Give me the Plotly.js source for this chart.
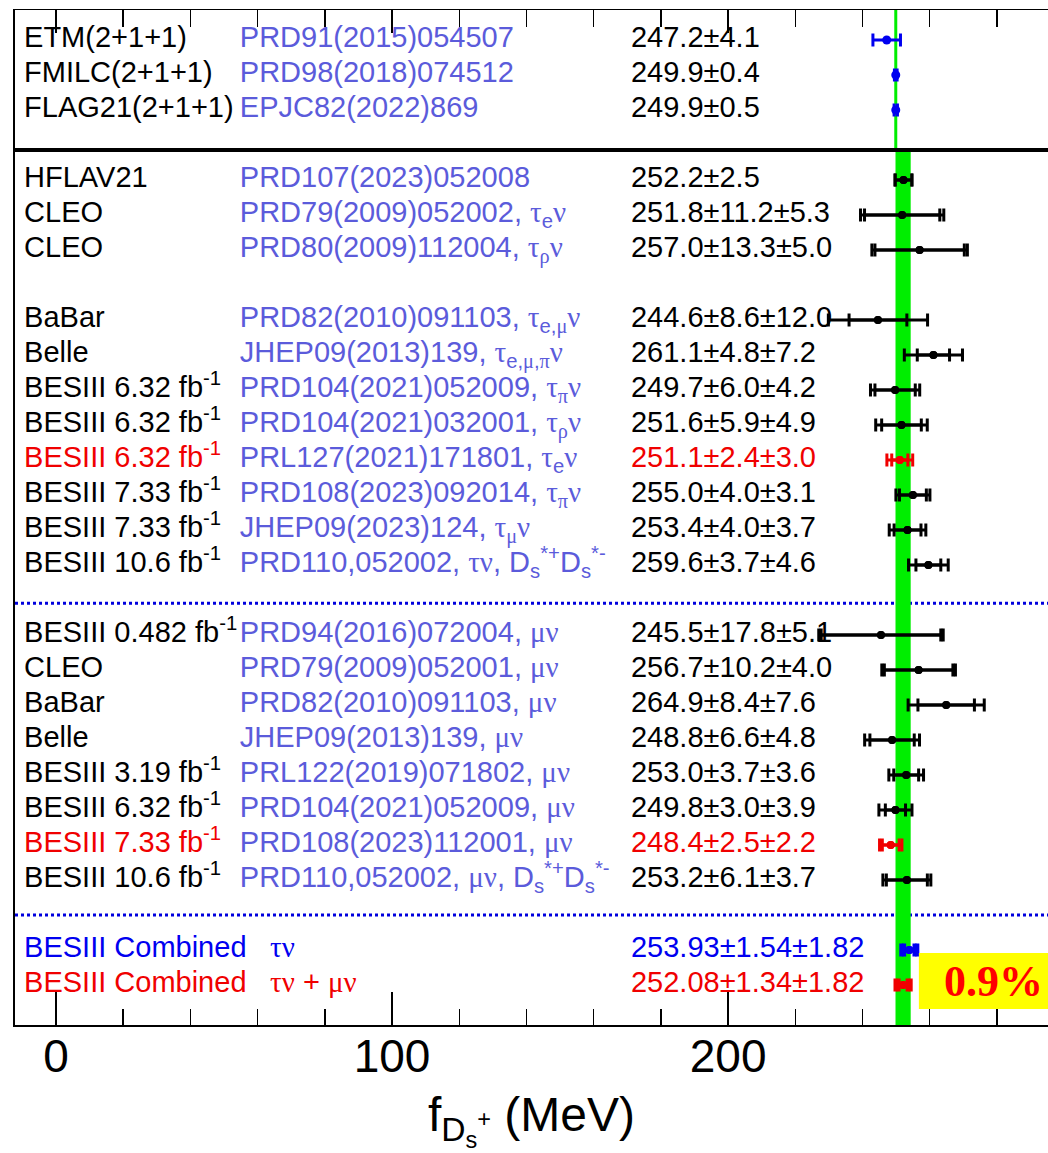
<!DOCTYPE html>
<html><head><meta charset="utf-8">
<script src="https://cdn.plot.ly/plotly-3.0.1.min.js"></script>
<style>html,body{margin:0;padding:0;background:#fff}</style>
</head><body>
<div id="chart" style="width:1048px;height:1153px"></div>
<script>
// ---------------- data ----------------
const names = [
  'ETM(2+1+1)', 'FMILC(2+1+1)', 'FLAG21(2+1+1)',
  'HFLAV21', 'CLEO', 'CLEO',
  'BaBar', 'Belle', 'BESIII 6.32 fb<sup>-1</sup>', 'BESIII 6.32 fb<sup>-1</sup>', 'BESIII 6.32 fb<sup>-1</sup>',
  'BESIII 7.33 fb<sup>-1</sup>', 'BESIII 7.33 fb<sup>-1</sup>', 'BESIII 10.6 fb<sup>-1</sup>',
  'BESIII 0.482 fb<sup>-1</sup>', 'CLEO', 'BaBar', 'Belle', 'BESIII 3.19 fb<sup>-1</sup>',
  'BESIII 6.32 fb<sup>-1</sup>', 'BESIII 7.33 fb<sup>-1</sup>', 'BESIII 10.6 fb<sup>-1</sup>',
  'BESIII Combined', 'BESIII Combined'
];
const refs = [
  'PRD91(2015)054507', 'PRD98(2018)074512', 'EPJC82(2022)869',
  'PRD107(2023)052008', 'PRD79(2009)052002, {t}<sub>e</sub>{n}', 'PRD80(2009)112004, {t}<sub>{r}</sub>{n}',
  'PRD82(2010)091103, {t}<sub>e,{m}</sub>{n}', 'JHEP09(2013)139, {t}<sub>e,{m},{p}</sub>{n}',
  'PRD104(2021)052009, {t}<sub>{p}</sub>{n}', 'PRD104(2021)032001, {t}<sub>{r}</sub>{n}',
  'PRL127(2021)171801, {t}<sub>e</sub>{n}', 'PRD108(2023)092014, {t}<sub>{p}</sub>{n}',
  'JHEP09(2023)124, {t}<sub>{m}</sub>{n}', 'PRD110,052002, {t}{n}, D<sub>s</sub><sup>*+</sup>D<sub>s</sub><sup>*-</sup>',
  'PRD94(2016)072004, {m}{n}', 'PRD79(2009)052001, {m}{n}', 'PRD82(2010)091103, {m}{n}',
  'JHEP09(2013)139, {m}{n}', 'PRL122(2019)071802, {m}{n}', 'PRD104(2021)052009, {m}{n}',
  'PRD108(2023)112001, {m}{n}', 'PRD110,052002, {m}{n}, D<sub>s</sub><sup>*+</sup>D<sub>s</sub><sup>*-</sup>',
  '{t}{n}', '{t}{n} + {m}{n}'
];
const values  = [247.2, 249.9, 249.9, 252.2, 251.8, 257.0, 244.6, 261.1, 249.7, 251.6, 251.1, 255.0, 253.4, 259.6,
                 245.5, 256.7, 264.9, 248.8, 253.0, 249.8, 248.4, 253.2, 253.93, 252.08];
const statErr = [4.1, 0.4, 0.5, 2.5, 11.2, 13.3, 8.6, 4.8, 6.0, 5.9, 2.4, 4.0, 4.0, 3.7,
                 17.8, 10.2, 8.4, 6.6, 3.7, 3.0, 2.5, 6.1, 1.54, 1.34];
const systErr = [null, null, null, null, 5.3, 5.0, 12.0, 7.2, 4.2, 4.9, 3.0, 3.1, 3.7, 4.6,
                 5.1, 4.0, 7.6, 4.8, 3.6, 3.9, 2.2, 3.7, 1.82, 1.82];
const blockOf = [0,0,0, 1,1,1, 2,2,2,2,2,2,2,2, 3,3,3,3,3,3,3,3, 4,4];
const kind = ['lat','lat','lat', 'exp','exp','exp', 'exp','exp','exp','exp','hl','exp','exp','exp',
              'exp','exp','exp','exp','exp','exp','hl','exp', 'combTau','combAll'];
const decimals = [1,1,1, 1,1,1, 1,1,1,1,1,1,1,1, 1,1,1,1,1,1,1,1, 2,2];
const axisTicks = [0, 100, 200];
const precisionLabel = '0.9%';
const lqcdRefIndex = 2;      // FLAG21 average drawn as the thin line
const bandIndex = 23;        // combined tau nu + mu nu drawn as the band

// ---------------- styling ----------------
const FONT = 'Liberation Sans, Arial, Helvetica, sans-serif';
const GREEK = {t:'τ', n:'ν', m:'μ', r:'ρ', p:'π'};
function greekify(s){
  return s.replace(/\{([tnmrp])\}/g, (m0, k) => '<span style="font-family:Liberation Serif">' + GREEK[k] + '</span>');
}
const BLUE = '#0000f0', RED = '#f00000', PURPLE = '#5b5bdb', BLACK = '#000000', GREEN = '#00ee00';
const markColor = {lat: BLUE, exp: BLACK, hl: RED, combTau: BLUE, combAll: RED};
const nameColor = {lat: BLACK, exp: BLACK, hl: RED, combTau: BLUE, combAll: RED};
const refColor  = {lat: PURPLE, exp: PURPLE, hl: PURPLE, combTau: BLUE, combAll: RED};
const valColor  = {lat: BLACK, exp: BLACK, hl: RED, combTau: BLUE, combAll: RED};

const slot = values.map((v, i) => i + blockOf[i]);
const total = values.map((v, i) => systErr[i] == null ? statErr[i] : Math.sqrt(statErr[i]**2 + systErr[i]**2));
const valText = values.map((v, i) => {
  const d = decimals[i];
  let s = v.toFixed(d) + '±' + statErr[i].toFixed(d);
  if (systErr[i] != null) s += '±' + systErr[i].toFixed(d);
  return s;
});

const NAME_X = -9.5, REF_X = 54.7, REF_X_COMB = 63.7, VAL_X = 171.1;
const TXT = 29;
const traces = [];
const isComb = kind.map(k => k.startsWith('comb'));

traces.push({type:'scatter', mode:'text', x: names.map(() => NAME_X), y: slot, text: names,
  textposition:'middle right', textfont:{family:FONT, size:TXT, color: kind.map(k => nameColor[k])}, hoverinfo:'skip', showlegend:false});
traces.push({type:'scatter', mode:'text', x: refs.map((r, i) => isComb[i] ? REF_X_COMB : REF_X), y: slot, text: refs.map(greekify),
  textposition:'middle right', textfont:{family:FONT, size:TXT, color: kind.map(k => refColor[k])}, hoverinfo:'skip', showlegend:false});
traces.push({type:'scatter', mode:'text', x: values.map(() => VAL_X), y: slot, text: valText,
  textposition:'middle right', textfont:{family:FONT, size:TXT, color: kind.map(k => valColor[k])}, hoverinfo:'skip', showlegend:false});

['lat','exp','hl','combTau','combAll'].forEach(k => {
  const idx = kind.map((kk, i) => kk === k ? i : -1).filter(i => i >= 0);
  const col = markColor[k];
  const comb = k.startsWith('comb');
  const th = comb ? 4 : 3, w = 6.5;
  const msize = k === 'lat' ? 9 : 8;
  traces.push({type:'scatter', mode:'markers', x: idx.map(i => values[i]), y: idx.map(i => slot[i]),
    marker:{size:msize, color:col}, error_x:{type:'data', array: idx.map(i => total[i]), color:col, thickness:th, width:w},
    hoverinfo:'skip', showlegend:false});
  if (k !== 'lat') {
    traces.push({type:'scatter', mode:'markers', x: idx.map(i => values[i]), y: idx.map(i => slot[i]),
      marker:{size:msize, color:col}, error_x:{type:'data', array: idx.map(i => statErr[i]), color:col, thickness:th, width:w},
      hoverinfo:'skip', showlegend:false});
  }
});

const XR = [-12.2, 295.2];
const YR = [28.14, -0.857];
const thickSlot = 3.14, dot1 = 16.09, dot2 = 25.0;

const shapes = [
  {type:'line', xref:'paper', yref:'y', x0:0, x1:1, y0:dot1, y1:dot1, line:{color:'#0000dd', width:3, dash:'dot'}, layer:'below'},
  {type:'line', xref:'paper', yref:'y', x0:0, x1:1, y0:dot2, y1:dot2, line:{color:'#0000dd', width:3, dash:'dot'}, layer:'below'},
  {type:'rect', xref:'x', yref:'y', x0: values[bandIndex] - total[bandIndex], x1: values[bandIndex] + total[bandIndex],
    y0: thickSlot, y1: YR[0], fillcolor: GREEN, line:{width:0}, layer:'below'},
  {type:'line', xref:'x', yref:'y', x0: values[lqcdRefIndex], x1: values[lqcdRefIndex], y0: YR[1], y1: thickSlot,
    line:{color:GREEN, width:3}, layer:'below'},
  {type:'line', xref:'paper', yref:'y', x0:0, x1:1, y0:thickSlot, y1:thickSlot, line:{color:BLACK, width:4}, layer:'above'},
  {type:'rect', xref:'paper', yref:'paper', x0:0.875, x1:1.01, y0:0.0158, y1:0.0709, fillcolor:'#ffff00', line:{width:0}, layer:'above'}
];

const layout = {
  width:1048, height:1153,
  margin:{l:15, r:0, t:10, b:128},
  paper_bgcolor:'#ffffff', plot_bgcolor:'#ffffff',
  showlegend:false, hovermode:false,
  font:{family:FONT, color:BLACK},
  xaxis:{range:XR, tickmode:'array', tickvals:axisTicks, ticks:'inside', ticklen:33, tickwidth:2, tickcolor:BLACK,
    minor:{dtick:20, tick0:0, ticks:'inside', ticklen:16, tickwidth:1.5, tickcolor:BLACK, showgrid:false},
    showline:true, linewidth:2, linecolor:BLACK, showgrid:false, zeroline:false,
    tickfont:{family:FONT, size:46, color:BLACK}, ticklabelstandoff:-10,
    title:{text:'f<sub>D<sub>s</sub><sup>+</sup></sub> (MeV)', font:{family:FONT, size:48, color:BLACK}, standoff:18}},
  xaxis2:{range:XR, overlaying:'x', side:'top', anchor:'y', tickmode:'linear', tick0:0, dtick:100,
    ticks:'inside', ticklen:23, tickwidth:2, tickcolor:BLACK,
    minor:{dtick:20, tick0:0, ticks:'inside', ticklen:17, tickwidth:1.5, tickcolor:BLACK, showgrid:false},
    showticklabels:false, showline:true, linewidth:1.5, linecolor:BLACK, showgrid:false, zeroline:false},
  yaxis:{range:YR, showline:true, linewidth:2, linecolor:BLACK, showticklabels:false, ticks:'', showgrid:false, zeroline:false},
  shapes: shapes,
  annotations:[{xref:'paper', yref:'paper', x:0.947, y:0.0433, xanchor:'center', yanchor:'middle', showarrow:false,
    text:'<b>' + precisionLabel + '</b>', font:{family:'Liberation Serif, Times New Roman, serif', size:44, color:'#ff0000'}}]
};
traces.push({type:'scatter', mode:'markers', x:[], y:[], xaxis:'x2', yaxis:'y', hoverinfo:'skip', showlegend:false});

Plotly.newPlot('chart', traces, layout, {staticPlot:true, displayModeBar:false});
</script>
</body></html>
